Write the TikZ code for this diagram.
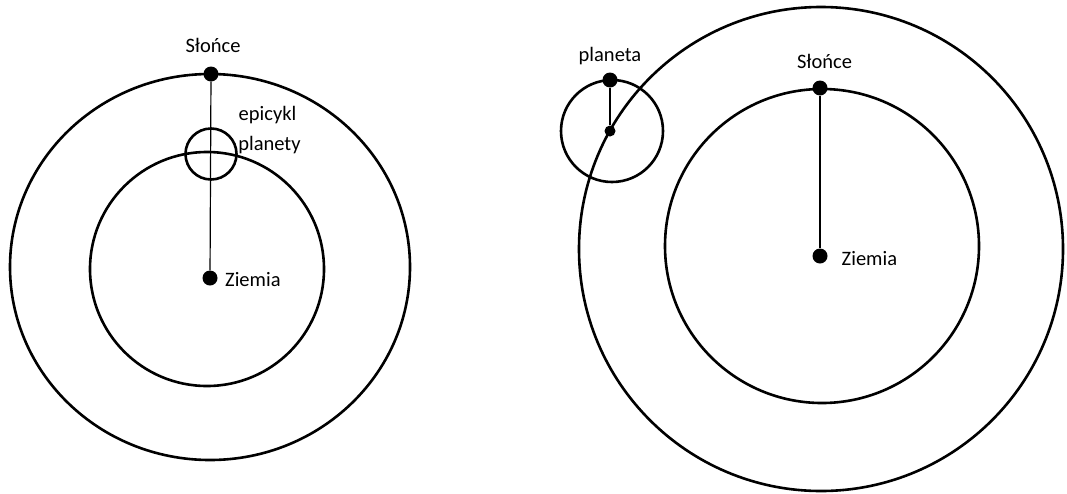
\documentclass[tikz,border=0pt]{standalone}
\usepackage{fontspec}
\setmainfont{Carlito}
\begin{document}
\begin{tikzpicture}[x=1pt,y=-1pt,
  orbit/.style={line width=2.6pt},
  dotbig/.style={circle,fill=black,inner sep=0pt,minimum size=15pt},
  dotsmall/.style={circle,fill=black,inner sep=0pt,minimum size=11pt},
  rod/.style={line width=1.2pt},
  lbl/.style={font=\fontsize{20.5}{24}\selectfont,inner sep=0pt}]
\useasboundingbox (0,0) rectangle (1067,493);
% left diagram
\draw[orbit] (210,267) ellipse [x radius=200pt, y radius=193pt];
\draw[orbit] (207,269) circle [radius=117pt];
\draw[orbit] (211,154) circle [radius=25.5pt];
\node[dotbig] (sunL) at (211,74) {};
\node[dotbig] (earthL) at (210,278) {};
\draw[rod] (sunL) -- (earthL);
\node[lbl,anchor=base] (sunLt) at (213,52.5) {Słońce};
\node[lbl,anchor=base] (epiA) at (267.5,120.5) {epicykl};
\node[lbl,anchor=base] (epiB) at (269.5,150) {planety};
\node[lbl,anchor=base west] (earthLt) at (225,286) {Ziemia};
% right diagram
\draw[orbit] (821,249) circle [radius=242pt];
\draw[orbit] (822,246) circle [radius=157pt];
\draw[orbit] (612,131) circle [radius=51pt];
\node[dotbig] (sunR) at (820,88) {};
\node[dotbig] (earthR) at (820,256) {};
\node[dotbig] (planet) at (610,80) {};
\node[dotsmall] (epiC) at (610,131) {};
\draw[rod] (sunR) -- (earthR);
\draw[rod] (planet) -- (epiC);
\node[lbl,anchor=base] (sunRt) at (824.5,68) {Słońce};
\node[lbl,anchor=base] (planett) at (610,61.5) {planeta};
\node[lbl,anchor=base west] (earthRt) at (841.5,265) {Ziemia};
\end{tikzpicture}
\end{document}
